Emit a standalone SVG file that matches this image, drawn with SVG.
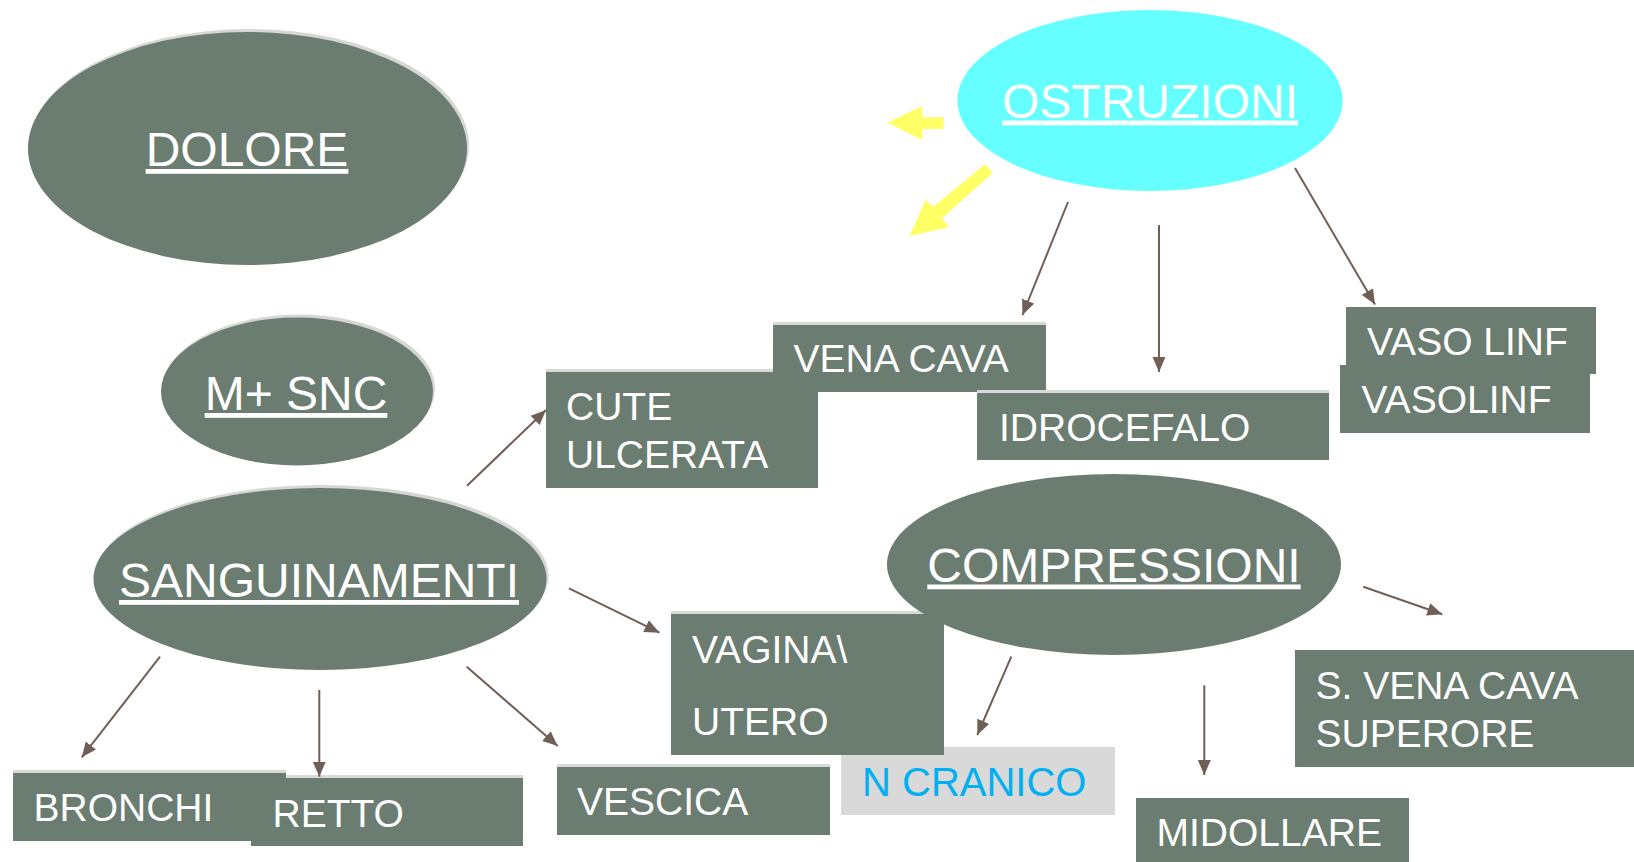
<svg xmlns="http://www.w3.org/2000/svg" width="1634" height="862" viewBox="0 0 1634 862">
<defs>
<style>
.el{fill:#6b7c70}
.rim{fill:#d6d6d6}
.box{fill:#6b7c70}
.stripe{fill:#d9d9d9}
.lbl{font-family:"Liberation Sans",Arial,sans-serif;font-size:48px;fill:#ffffff;text-anchor:middle;text-decoration:underline}
.txt{font-family:"Liberation Sans",Arial,sans-serif;font-size:39px;fill:#ffffff}
.con{stroke:#705f57;stroke-width:2;fill:none;marker-end:url(#ah)}
.yel{fill:#ffff66}
</style>
<marker id="ah" viewBox="0 0 15 14" markerWidth="15" markerHeight="14" refX="15" refY="7" orient="auto" markerUnits="userSpaceOnUse">
<path d="M0,0.5 L15,7 L0,13.5 Z" fill="#705f57"/>
</marker>
</defs>
<rect width="1634" height="862" fill="#ffffff"/>

<g id="node-dolore">
<ellipse class="rim" cx="249.5" cy="145.5" rx="219.5" ry="116.5"/>
<ellipse class="el" cx="247.5" cy="148.5" rx="219.5" ry="116.5"/>
<text class="lbl" x="247" y="166">DOLORE</text>
</g>

<g id="node-msnc">
<ellipse class="rim" cx="299" cy="388.5" rx="136" ry="74"/>
<ellipse class="el" cx="297" cy="391.5" rx="136" ry="74"/>
<text class="lbl" x="296" y="410">M+ SNC</text>
</g>

<g id="node-sanguinamenti">
<ellipse class="rim" cx="322" cy="576" rx="226.5" ry="91"/>
<ellipse class="el" cx="320" cy="579" rx="226.5" ry="91"/>
<text class="lbl" x="319" y="597">SANGUINAMENTI</text>
</g>

<g id="node-ostruzioni">
<ellipse cx="1150" cy="100.5" rx="192.5" ry="90.5" fill="#66ffff"/>
<text class="lbl" x="1150" y="117.5">OSTRUZIONI</text>
</g>

<g id="yellow-arrows">
<polygon class="yel" points="943.6,117.3 922.3,117.3 922.3,106 887.5,122.7 922.3,140 922.3,129 943.6,129"/>
<polygon class="yel" points="985.1,164.3 992.9,172.7 942,218.3 948.8,227.3 909.8,236 925.4,200 933.2,206.7"/>
</g>

<g id="node-cute">
<rect class="stripe" x="546" y="369" width="272" height="3"/>
<rect class="box" x="546" y="372" width="272" height="116"/>
<text class="txt" x="566" y="420">CUTE</text>
<text class="txt" x="566" y="468">ULCERATA</text>
</g>

<g id="node-venacava">
<rect class="stripe" x="773" y="322" width="273" height="3"/>
<rect class="box" x="773" y="325" width="273" height="67"/>
<text class="txt" x="793.5" y="371.5">VENA CAVA</text>
</g>

<g id="node-idrocefalo">
<rect class="stripe" x="977" y="390" width="352" height="3"/>
<rect class="box" x="977" y="393" width="352" height="67"/>
<text class="txt" x="999" y="440.5">IDROCEFALO</text>
</g>

<g id="node-vasolinf1">
<rect class="box" x="1346" y="307" width="250" height="67"/>
<text class="txt" x="1367" y="355">VASO LINF</text>
</g>

<g id="node-vasolinf2">
<rect class="box" x="1340" y="365" width="250" height="68"/>
<text class="txt" x="1361.5" y="413">VASOLINF</text>
</g>

<g id="node-ncranico">
<rect x="841" y="747" width="274" height="68" fill="#d9d9d9"/>
<text class="txt" x="862" y="796" style="fill:#00b0f0;font-size:40px">N CRANICO</text>
</g>

<g id="node-vagina">
<rect class="stripe" x="671" y="611" width="273" height="3"/>
<rect class="box" x="671" y="614" width="273" height="141"/>
<text class="txt" x="692" y="662.5">VAGINA\</text>
<text class="txt" x="692" y="735">UTERO</text>
</g>

<g id="node-compressioni">
<ellipse class="el" cx="1114" cy="564.5" rx="227" ry="90.5"/>
<text class="lbl" x="1114" y="581.5">COMPRESSIONI</text>
</g>

<g id="node-vescica">
<rect class="stripe" x="557" y="764" width="273" height="3"/>
<rect class="box" x="557" y="767" width="273" height="68"/>
<text class="txt" x="577" y="815">VESCICA</text>
</g>

<g id="node-bronchi">
<rect class="stripe" x="13" y="770" width="273" height="3"/>
<rect class="box" x="13" y="773" width="273" height="68"/>
<text class="txt" x="33.5" y="821">BRONCHI</text>
</g>

<g id="node-retto">
<rect class="stripe" x="286" y="775" width="237" height="3"/>
<rect class="box" x="251" y="778" width="272" height="68"/>
<text class="txt" x="272.5" y="826.5">RETTO</text>
</g>

<g id="node-midollare">
<rect class="box" x="1136" y="798" width="273" height="66"/>
<text class="txt" x="1156.5" y="845.5">MIDOLLARE</text>
</g>

<g id="node-svenacava">
<rect class="box" x="1295" y="650" width="345" height="117"/>
<text class="txt" x="1315.5" y="699">S. VENA CAVA</text>
<text class="txt" x="1315.5" y="746.5">SUPERORE</text>
</g>

<g id="connectors">
<line class="con" x1="1068" y1="202" x2="1022.5" y2="315"/>
<line class="con" x1="1159" y1="225" x2="1159" y2="372"/>
<line class="con" x1="1295" y1="168" x2="1375" y2="304.5"/>
<line class="con" x1="467" y1="485.7" x2="546" y2="410"/>
<line class="con" x1="569" y1="588.3" x2="659.5" y2="632.7"/>
<line class="con" x1="160" y1="656.7" x2="81.7" y2="757.3"/>
<line class="con" x1="319.3" y1="690" x2="319.3" y2="776.7"/>
<line class="con" x1="466.7" y1="666.7" x2="557.7" y2="746"/>
<line class="con" x1="1011.3" y1="656.7" x2="977.3" y2="735"/>
<line class="con" x1="1204.3" y1="685.3" x2="1204.3" y2="775"/>
<line class="con" x1="1363.3" y1="586.7" x2="1442.3" y2="614.3"/>
</g>
</svg>
